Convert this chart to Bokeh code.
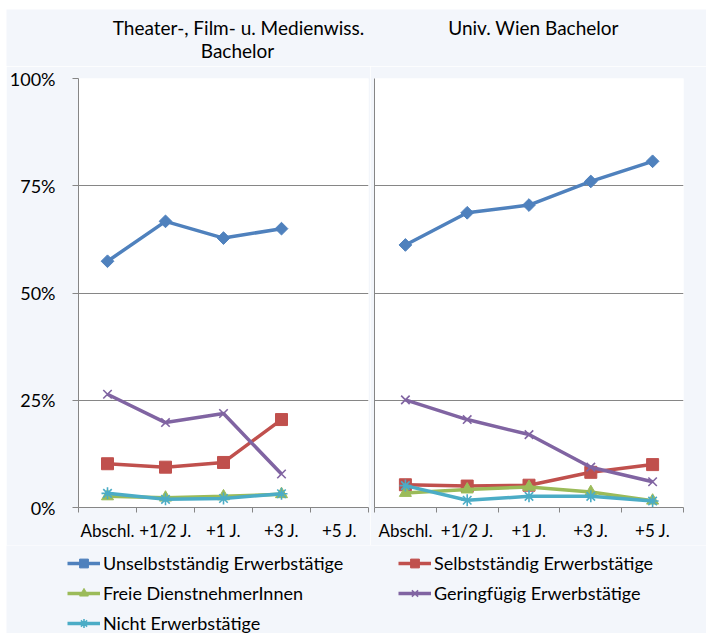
import numpy as np
from bokeh.plotting import figure
from bokeh.models import (Range1d, FixedTicker, PrintfTickFormatter, Label, Legend,
                          LegendItem, Spacer)
from bokeh.layouts import column, row
from bokeh.embed import file_html
from bokeh.resources import INLINE

nan = float("nan")

# ---------------- data ----------------
categories = ["Abschl.", "+1/2 J.", "+1 J.", "+3 J.", "+5 J."]
series_names = ["Unselbstständig Erwerbstätige", "Selbstständig Erwerbstätige",
                "Freie DienstnehmerInnen", "Geringfügig Erwerbstätige",
                "Nicht Erwerbstätige"]
left_title = ["Theater-, Film- u. Medienwiss.", "Bachelor"]
right_title = ["Univ. Wien Bachelor"]
y_ticks = [0, 25, 50, 75, 100]

# Theater-, Film- u. Medienwiss. Bachelor (percent)
tfm_unselbst = [57.4, 66.7, 62.8, 65.0, nan]
tfm_selbst = [10.2, 9.4, 10.5, 20.5, nan]
tfm_freie = [2.6, 2.3, 2.6, 3.1, nan]
tfm_gering = [26.4, 19.8, 21.9, 7.8, nan]
tfm_nicht = [3.3, 1.9, 2.1, 3.2, nan]

# Univ. Wien Bachelor (percent)
uw_unselbst = [61.2, 68.7, 70.5, 76.0, 80.7]
uw_selbst = [5.3, 5.0, 5.2, 8.2, 10.0]
uw_freie = [3.4, 4.2, 4.8, 3.6, 1.6]
uw_gering = [25.1, 20.5, 17.0, 9.4, 6.0]
uw_nicht = [5.1, 1.7, 2.6, 2.6, 1.5]

left_data = [tfm_unselbst, tfm_selbst, tfm_freie, tfm_gering, tfm_nicht]
right_data = [uw_unselbst, uw_selbst, uw_freie, uw_gering, uw_nicht]

# ---------------- styles ----------------
FONT = "Lato"
BG = "#F3F6FB"
AXIS_GRAY = "#868686"
colors = ["#4F81BD", "#C0504D", "#9BBB59", "#8064A2", "#4BACC6"]
markers = ["square", "square", "triangle", "x", "asterisk"]
msizes = [9, 12, 12, 12, 12]
mangles = [np.pi / 4, 0, 0, 0, 0]
mline = [1, 1, 1, 1.6, 1.6]
LW = 3.5

x_centers = [i + 0.5 for i in range(len(categories))]
x_bounds = [float(i) for i in range(len(categories) + 1)]


def make_panel(data, width, bl, br, show_labels):
    p = figure(width=width, height=479, x_range=Range1d(0, len(categories)),
               y_range=Range1d(0, 100), toolbar_location=None,
               output_backend="svg", title=None,
               min_border_left=bl, min_border_right=br,
               min_border_top=12, min_border_bottom=38)
    p.background_fill_color = "white"
    p.border_fill_color = BG
    p.outline_line_color = None

    xa = p.xaxis[0]
    xa.ticker = FixedTicker(ticks=x_centers, minor_ticks=x_bounds)
    xa.major_label_overrides = {x: c for x, c in zip(x_centers, categories)}
    xa.major_tick_out = 0
    xa.major_tick_in = 0
    xa.minor_tick_out = 5
    xa.minor_tick_in = 0
    xa.minor_tick_line_color = AXIS_GRAY
    xa.axis_line_color = AXIS_GRAY
    xa.major_label_text_font = FONT
    xa.major_label_text_font_size = "17px"
    xa.major_label_text_color = "black"
    xa.major_label_standoff = 7

    ya = p.yaxis[0]
    ya.axis_line_color = AXIS_GRAY
    ya.major_tick_line_color = AXIS_GRAY
    ya.minor_tick_line_color = None
    ya.major_tick_in = 0
    if show_labels:
        ya.ticker = FixedTicker(ticks=y_ticks, minor_ticks=[])
        ya.formatter = PrintfTickFormatter(format="%d%%")
        ya.major_tick_out = 6
        ya.major_label_standoff = 17
        ya.major_label_text_font = FONT
        ya.major_label_text_font_size = "18px"
        ya.major_label_text_color = "black"
    else:
        ya.ticker = FixedTicker(ticks=[], minor_ticks=[])
        ya.major_tick_out = 0
        ya.major_label_standoff = 0

    p.xgrid.visible = False
    p.ygrid.ticker = FixedTicker(ticks=y_ticks, minor_ticks=[])
    p.ygrid.grid_line_color = AXIS_GRAY
    p.ygrid.grid_line_width = 1

    for vals, c, m, s, a, lw in zip(data, colors, markers, msizes, mangles, mline):
        p.line(x_centers, vals, line_color=c, line_width=LW)
        p.scatter(x_centers, vals, marker=m, size=s, angle=a,
                  fill_color=c, line_color=c, line_width=lw)
    return p


pL = make_panel(left_data, 364, 63, 2, True)
pR = make_panel(right_data, 336, 4, 23, False)

# ---------------- title strip (page y 9..66) ----------------
pT = figure(width=700, height=57, x_range=Range1d(0, 1), y_range=Range1d(0, 1),
            toolbar_location=None, output_backend="svg", title=None,
            x_axis_location=None, y_axis_location=None, min_border=0)
pT.grid.visible = False
pT.outline_line_color = None
pT.background_fill_color = BG
pT.border_fill_color = BG

title_specs = [(left_title[0], 232, 39), (left_title[1], 231, 16),
               (right_title[0], 527, 39)]
for txt, sx, sy in title_specs:
    pT.add_layout(Label(x=sx, y=sy, x_units="screen", y_units="screen", text=txt,
                        text_align="center", text_baseline="middle",
                        text_font=FONT, text_font_size="19px", text_color="black"))

# ---------------- legend figure ----------------
pLeg = figure(width=700, height=88, x_range=Range1d(0, 1), y_range=Range1d(1000, 1001),
              toolbar_location=None, output_backend="svg", title=None,
              x_axis_location=None, y_axis_location=None, min_border=0)
pLeg.grid.visible = False
pLeg.outline_line_color = None
pLeg.background_fill_color = BG
pLeg.border_fill_color = BG

items = []
for name, vals, c, m, s, a, lw in zip(series_names, right_data, colors, markers,
                                       msizes, mangles, mline):
    lr = pLeg.line(x_centers, vals, line_color=c, line_width=LW)
    sr = pLeg.scatter(x_centers, vals, marker=m, size=s, angle=a, fill_color=c,
                      line_color=c, line_width=lw)
    items.append(LegendItem(label=name, renderers=[lr, sr]))


def mk_legend(its, loc):
    return Legend(items=its, location=loc, label_text_font=FONT,
                  label_text_font_size="18px", label_text_color="black",
                  glyph_width=33, glyph_height=22, label_height=22,
                  label_standoff=3, spacing=8, padding=0, margin=0,
                  border_line_color=None, background_fill_alpha=0)


# legend figure starts at page x=6, y=545
leg1 = mk_legend([items[0], items[2], items[4]], (61, 88 - 7 - 3 * 22 - 2 * 8))
leg2 = mk_legend([items[1], items[3]], (392, 88 - 7 - 2 * 22 - 8))
pLeg.add_layout(leg1)
pLeg.add_layout(leg2)

layout = column(Spacer(height=9),
                row(Spacer(width=6), column(pT, row(pL, pR), pLeg)))
open("out.html", "w").write(file_html(layout, INLINE))
